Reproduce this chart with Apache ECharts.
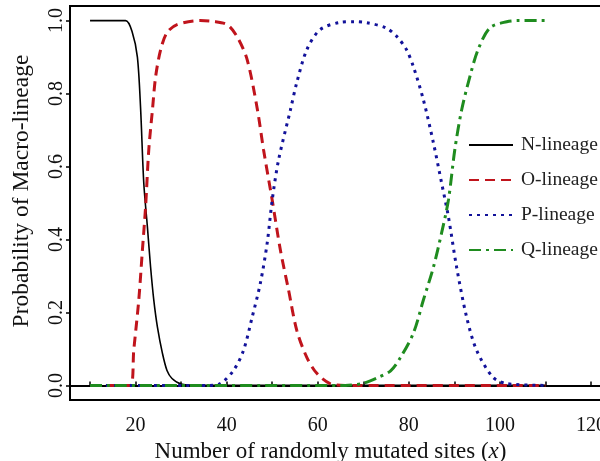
<!DOCTYPE html>
<html>
<head>
<meta charset="utf-8">
<script src="https://cdn.jsdelivr.net/npm/echarts@6/dist/echarts.min.js"></script>
<style>
  html, body { margin: 0; padding: 0; background: #fff; }
  #chart { width: 600px; height: 461px; }
</style>
</head>
<body>
<div id="chart"></div>
<script>
// values
const lineageNames = ['N-lineage', 'O-lineage', 'P-lineage', 'Q-lineage'];

const nX = [10, 17.8, 19.3, 20.4, 21.1, 21.8, 22.6, 23.3, 24, 24.8, 25.9, 26.9, 28, 30, 35, 110];
const nY = [1, 1, 0.967, 0.9, 0.76, 0.555, 0.434, 0.324, 0.234, 0.16, 0.088, 0.041, 0.019, 0.004, 0, 0];

const oX = [10, 18.9, 19.6, 20.7, 21.5, 22.2, 22.9, 23.7, 24.4, 25.5, 26.9, 29.1, 34.2, 37, 40.1, 42.3, 44.5, 46.7, 48.1, 50, 51.8, 53.6, 55.4, 57.6, 59.8, 62.7, 66, 110];
const oY = [0, 0, 0.096, 0.234, 0.371, 0.49, 0.646, 0.755, 0.846, 0.92, 0.967, 0.989, 1, 0.998, 0.989, 0.956, 0.893, 0.76, 0.646, 0.508, 0.371, 0.261, 0.151, 0.077, 0.033, 0.005, 0, 0];

const pX = [10, 36, 38.6, 41.5, 43.7, 45.6, 47.4, 48.9, 50, 51.4, 54, 55.4, 57.6, 60.5, 64.9, 68, 70.8, 75, 77.4, 79.5, 81, 83.2, 85.4, 87.2, 88.7, 90.5, 92.7, 94.9, 98.5, 101.5, 110];
const pY = [0, 0, 0.005, 0.041, 0.096, 0.187, 0.28, 0.39, 0.508, 0.618, 0.755, 0.83, 0.92, 0.975, 0.995, 0.997, 0.994, 0.98, 0.956, 0.92, 0.874, 0.783, 0.665, 0.555, 0.462, 0.324, 0.187, 0.096, 0.022, 0.005, 0];

const qX = [10, 66, 70, 73.3, 76, 78.1, 81, 83.2, 85.4, 87.2, 88.7, 90.1, 91.6, 93.4, 95.2, 97.8, 101.5, 104, 110];
const qY = [0, 0, 0.006, 0.022, 0.04, 0.075, 0.143, 0.234, 0.324, 0.418, 0.508, 0.646, 0.755, 0.846, 0.92, 0.98, 0.997, 1, 1];

const xTicks = [10, 20, 30, 40, 50, 60, 70, 80, 90, 100, 110, 120];
const xLabels = [20, 40, 60, 80, 100, 120];
const yTicks = [0, 0.2, 0.4, 0.6, 0.8, 1.0];

const zip = (xs, ys) => xs.map((x, i) => [x, ys[i]]);

const font = 'Liberation Serif';
const styles = [
  { color: '#000000', width: 1.6, type: 'solid' },
  { color: '#c0141c', width: 3, type: [10, 6] },
  { color: '#12129a', width: 3, type: [3, 5] },
  { color: '#1f8c1f', width: 3, type: [12, 5, 3, 5] }
];
const seriesData = [zip(nX, nY), zip(oX, oY), zip(pX, pY), zip(qX, qY)];

const chart = echarts.init(document.getElementById('chart'));
chart.setOption({
  animation: false,
  textStyle: { fontFamily: font },
  grid: {
    left: 70,
    width: 541,
    top: 6,
    bottom: 61,
    outerBoundsMode: 'none',
    show: true,
    borderColor: '#000',
    borderWidth: 2
  },
  legend: {
    orient: 'vertical',
    left: 468,
    top: 135,
    padding: 0,
    itemWidth: 44,
    itemHeight: 14,
    itemGap: 15,
    data: lineageNames,
    itemStyle: { opacity: 0 },
    textStyle: { fontFamily: font, fontSize: 19.5, color: '#222', padding: [0, 0, 0, 3] }
  },
  xAxis: {
    type: 'value',
    min: 5.6,
    max: 124.4,
    name: 'Number of randomly mutated sites ({i|x})',
    nameLocation: 'middle',
    nameGap: 32,
    nameTextStyle: {
      fontFamily: font, fontSize: 23, color: '#111', padding: [0, 20, 0, 0],
      rich: { i: { fontFamily: font, fontSize: 23, fontStyle: 'italic', color: '#111' } }
    },
    splitLine: { show: false },
    axisLine: { lineStyle: { color: '#000', width: 2 } },
    axisTick: { customValues: xTicks, inside: true, length: 4, lineStyle: { color: '#000', width: 1.5 } },
    axisLabel: {
      customValues: xLabels, margin: 16,
      fontFamily: font, fontSize: 20, color: '#111'
    }
  },
  yAxis: {
    type: 'value',
    min: -0.04,
    max: 1.04,
    name: 'Probability of Macro-lineage',
    nameLocation: 'middle',
    nameGap: 36,
    nameTextStyle: { fontFamily: font, fontSize: 23.5, color: '#111', padding: [0, 0, 0, 24] },
    splitLine: { show: false },
    axisLine: { lineStyle: { color: '#000', width: 2 } },
    axisTick: { customValues: yTicks, length: 4, lineStyle: { color: '#000', width: 1.5 } },
    axisLabel: {
      customValues: yTicks, rotate: 90, margin: 3,
      fontFamily: font, fontSize: 20, color: '#111',
      formatter: v => v.toFixed(1)
    }
  },
  series: lineageNames.map((name, i) => ({
    name: name,
    type: 'line',
    data: seriesData[i],
    symbol: 'none',
    smooth: 0.3,
    color: styles[i].color,
    lineStyle: styles[i]
  }))
});
</script>
</body>
</html>
